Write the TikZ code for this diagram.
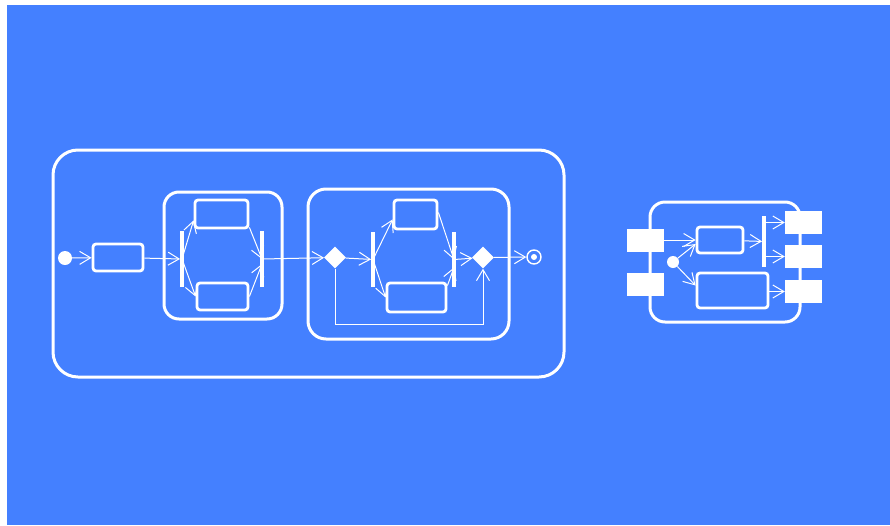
\documentclass[tikz,border=0pt]{standalone}
\usetikzlibrary{arrows.meta,positioning,shapes.geometric}
\definecolor{bgblue}{HTML}{4480FF}

\begin{document}
\begin{tikzpicture}[x=1pt,y=-1pt,>={Straight Barb[length=11pt,width=13pt]},
  frame/.style={draw=white,line width=3pt,inner sep=0pt},
  act/.style={draw=white,line width=2.8pt,rounded corners=3pt,inner sep=0pt},
  bar/.style={fill=white,inner sep=0pt,minimum width=3.5pt},
  pin/.style={fill=white,inner sep=0pt,minimum width=37pt,minimum height=23pt},
  dot/.style={circle,fill=white,inner sep=0pt,minimum size=14pt},
  choice/.style={diamond,fill=white,inner sep=0pt,minimum size=22pt},
  conn/.style={->,white,line width=1pt}]
\useasboundingbox (0,0) rectangle (890,525);
\fill[white] (0,0) rectangle (890,525);
\fill[bgblue] (7,5) rectangle (890,525);
% activity frames
\node[frame,rounded corners=25pt,minimum width=511pt,minimum height=227pt] (outer) at (308.5,263.5) {};
\node[frame,rounded corners=15pt,minimum width=118pt,minimum height=127pt] (grp1) at (223,255.5) {};
\node[frame,rounded corners=18pt,minimum width=201pt,minimum height=150pt] (grp2) at (408.5,264) {};
\node[frame,rounded corners=15pt,minimum width=150pt,minimum height=120pt] (comp) at (725,262) {};
% left activity
\node[dot] (init) at (65,258) {};
\node[act,minimum width=50pt,minimum height=27pt] (a1) at (118,257.5) {};
\node[bar,minimum height=56pt] (f1) at (182,259) {};
\node[act,minimum width=53pt,minimum height=28pt] (t1) at (221.5,214) {};
\node[act,minimum width=51pt,minimum height=27pt] (b1) at (222.5,296.5) {};
\node[bar,minimum height=56pt] (j1) at (262,259) {};
\node[choice] (d1) at (335,257.5) {};
\node[bar,minimum height=55pt] (f2) at (373,259.5) {};
\node[act,minimum width=43pt,minimum height=29pt] (t2) at (415.5,214.5) {};
\node[act,minimum width=59pt,minimum height=29pt] (b2) at (416.5,297.5) {};
\node[bar,minimum height=55pt] (j2) at (454,259.5) {};
\node[choice] (d2) at (483,257.5) {};
\node[circle,draw=white,line width=1.4pt,minimum size=14pt,inner sep=0pt] (fin) at (534,257) {};
\fill[white] (fin) circle (3pt);
\coordinate (back) at (483,324);
\draw[conn] (init) -- (a1);
\draw[conn] (a1) -- (f1);
\draw[conn] (f1.center) -- ([yshift=9pt]t1.south west);
\draw[conn] (f1.center) -- (b1.west);
\draw[conn] ([yshift=2pt]t1.south east) -- (j1.center);
\draw[conn] (b1.east) -- ([yshift=-5pt]j1.center);
\draw[conn] (j1) -- (d1);
\draw[conn] (d1) -- (f2);
\draw[conn] (f2.center) -- ([yshift=11pt]t2.south west);
\draw[conn] (f2.center) -- (b2.west);
\draw[conn] ([yshift=2pt]t2.east) -- (j2.center);
\draw[conn] ([yshift=-4pt]b2.north east) -- ([yshift=-8pt]j2.center);
\draw[conn] (j2) -- (d2);
\draw[conn] (d1.south) |- (back) -- (d2.south);
\draw[conn] (d2) -- (fin);
% right activity with pins
\node[pin] (p1) at (645,240) {};
\node[pin] (p2) at (645,284) {};
\node[pin] (r1) at (803.5,222.5) {};
\node[pin] (r2) at (803.5,256.5) {};
\node[pin] (r3) at (803.5,291.5) {};
\node[dot,minimum size=12pt] (init2) at (673,262) {};
\node[act,minimum width=46pt,minimum height=26pt] (t3) at (720,240) {};
\node[act,minimum width=71pt,minimum height=35pt] (b3) at (732.5,290.5) {};
\node[bar,minimum height=51pt] (f3) at (764,241.5) {};
\draw[conn] (p1) -- (t3);
\draw[conn] (init2) -- ([yshift=-4pt]t3.west);
\draw[conn] (init2) -- ([yshift=5pt]b3.west);
\draw[conn] (t3) -- (f3);
\draw[conn] (f3.east |- r1.west) -- (r1.west);
\draw[conn] (f3.east |- r2.west) -- (r2.west);
\draw[conn] (b3.east |- r3.west) -- (r3.west);
\end{tikzpicture}
\end{document}
